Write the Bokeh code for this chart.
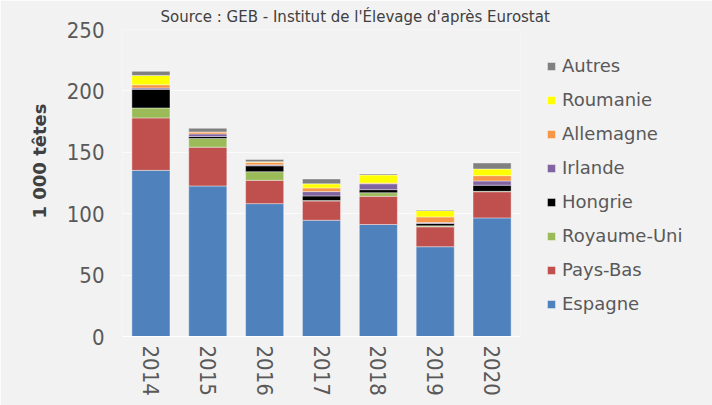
from bokeh.plotting import figure
from bokeh.models import Legend, LegendItem, FactorRange, FixedTicker, Title
from bokeh.embed import file_html
from bokeh.resources import INLINE

years = ["2014", "2015", "2016", "2017", "2018", "2019", "2020"]
espagne = [135.3, 122.6, 108.2, 94.7, 91.2, 73.1, 96.6]
pays_bas = [42.7, 31.6, 19.0, 15.7, 23.0, 16.2, 21.3]
royaume_uni = [8.1, 7.0, 7.0, 0.3, 2.9, 0.8, 0.3]
hongrie = [15.2, 1.7, 4.8, 3.8, 2.5, 1.9, 5.0]
irlande = [1.1, 2.1, 0.8, 3.5, 4.8, 0.8, 3.5]
allemagne = [2.6, 1.6, 2.0, 3.0, 0.6, 4.6, 4.3]
roumanie = [7.6, 0.0, 0.5, 3.3, 6.5, 5.1, 5.4]
autres = [3.3, 3.0, 1.9, 4.0, 0.8, 0.6, 4.9]

series = ["Espagne", "Pays-Bas", "Royaume-Uni", "Hongrie", "Irlande", "Allemagne", "Roumanie", "Autres"]
colors = ["#4F81BD", "#C0504D", "#9BBB59", "#000000", "#8064A2", "#F79646", "#FFFF00", "#808080"]
y_ticks = [0, 50, 100, 150, 200, 250]

data = {"years": years, "Espagne": espagne, "Pays-Bas": pays_bas, "Royaume-Uni": royaume_uni,
        "Hongrie": hongrie, "Irlande": irlande, "Allemagne": allemagne,
        "Roumanie": roumanie, "Autres": autres}

BG = "#F2F2F2"
FONT = "DejaVu Sans"
NUMFONT = "DejaVu Sans Condensed"

p = figure(x_range=FactorRange(*years), y_range=(0, 250),
           frame_width=398, frame_height=307,
           output_backend="svg", toolbar_location=None,
           title="Source : GEB - Institut de l'Élevage d'après Eurostat",
           min_border_left=122, min_border_right=0, min_border_top=29, min_border_bottom=69)
p.background_fill_color = BG
p.border_fill_color = BG
p.outline_line_color = None

rs = p.vbar_stack(series, x="years", width=0.67, color=colors, source=data,
                  line_color="white", line_alpha=0.4, line_width=1)

p.title.text_font = FONT
p.title.text_font_size = "15px"
p.title.text_font_style = "normal"
p.title.text_color = "#404040"
p.title.align = "left"
p.title.offset = 38
p.title.standoff = 7

p.yaxis.ticker = FixedTicker(ticks=y_ticks)
p.yaxis.axis_line_color = None
p.yaxis.major_tick_line_color = None
p.yaxis.minor_tick_line_color = None
p.yaxis.major_tick_out = 0
p.yaxis.major_tick_in = 0
p.yaxis.major_label_standoff = 18
p.yaxis.major_label_text_font = NUMFONT
p.yaxis.major_label_text_font_size = "22px"
p.yaxis.major_label_text_color = "#595959"

ytitle = Title(text="1 000 têtes", align="right", offset=74, standoff=28,
               text_font=FONT, text_font_size="18px", text_font_style="bold",
               text_color="#404040")
p.add_layout(ytitle, "left")

p.xaxis.axis_line_color = "#FFFFFF"
p.xaxis.major_tick_line_color = None
p.xaxis.major_tick_out = 0
p.xaxis.major_tick_in = 0
p.xaxis.major_label_orientation = "vertical"
p.xaxis.major_label_standoff = 9
p.xaxis.major_label_text_font = NUMFONT
p.xaxis.major_label_text_font_size = "22px"
p.xaxis.major_label_text_color = "#595959"

p.xgrid.grid_line_color = None
p.ygrid.grid_line_color = "#FBFBFB"
p.ygrid.grid_line_width = 1

items = [LegendItem(label=s, renderers=[r]) for s, r in zip(series, rs)][::-1]
legend = Legend(items=items, location="top_left", orientation="vertical")
legend.background_fill_alpha = 0
legend.border_line_color = None
legend.margin = 26
legend.padding = 10
legend.glyph_width = 10
legend.glyph_height = 10
legend.label_height = 20
legend.spacing = 13
legend.label_standoff = 6
legend.label_text_font = FONT
legend.label_text_font_size = "18px"
legend.label_text_color = "#595959"
p.add_layout(legend, "right")

html = file_html(p, INLINE)
html = html.replace("<body>", '<body style="background-color:#F2F2F2;">', 1)
open("out.html", "w").write(html)
